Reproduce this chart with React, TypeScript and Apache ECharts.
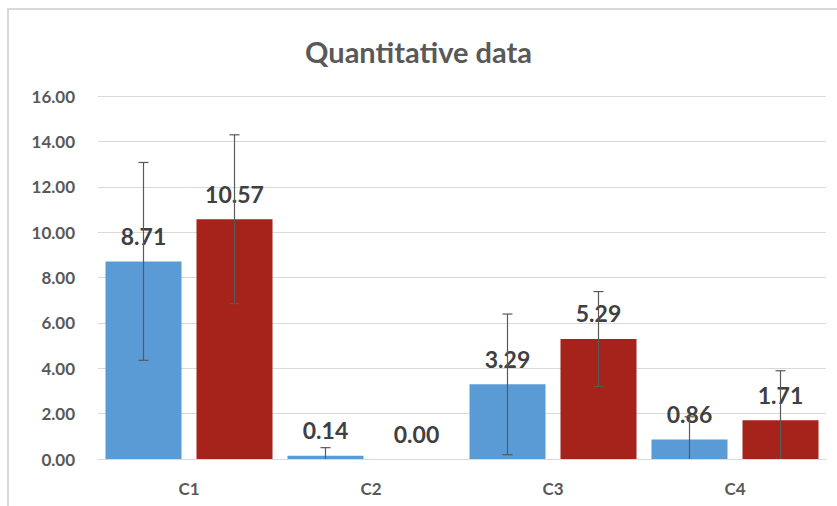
import React, { useEffect, useRef } from "react";
import * as echarts from "echarts";

const categories = ["C1", "C2", "C3", "C4"];
const seriesA = [8.71, 0.14, 3.29, 0.86];
const seriesB = [10.57, 0.0, 5.29, 1.71];
const errorA = [4.36, 0.36, 3.1, 1.0];
const errorB = [3.72, 0, 2.09, 2.18];
const yTicks = { min: 0, max: 16, interval: 2 };

const FONT = "Lato, 'Open Sans', sans-serif";
const BAR_W = 76;
const GAP = 15;
const OFFSET = (BAR_W + GAP) / 2;

function errorSeries(values: number[], errors: number[], offset: number) {
  const data = values.map((v, i) => [i, Math.max(0, v - errors[i]), v + errors[i], errors[i]]);
  return {
    type: "custom",
    z: 5,
    silent: true,
    data,
    renderItem: (params: any, api: any) => {
      const err = api.value(3);
      if (!err) return { type: "group", children: [] };
      const lo = api.coord([api.value(0), api.value(1)]);
      const hi = api.coord([api.value(0), api.value(2)]);
      const x = lo[0] + offset;
      const cap = 5;
      const style = { stroke: "#595959", lineWidth: 1.2 };
      const children: any[] = [
        { type: "line", shape: { x1: x, y1: lo[1], x2: x, y2: hi[1] }, style },
        { type: "line", shape: { x1: x - cap, y1: hi[1], x2: x + cap, y2: hi[1] }, style },
      ];
      if (api.value(1) > 0) {
        children.push({ type: "line", shape: { x1: x - cap, y1: lo[1], x2: x + cap, y2: lo[1] }, style });
      }
      return { type: "group", children };
    },
  };
}

export default function App() {
  const ref = useRef<HTMLDivElement>(null);
  useEffect(() => {
    if (!ref.current) return;
    const chart = echarts.init(ref.current, null, { renderer: "svg" });
    const label = {
      show: true,
      position: "top",
      distance: 14,
      color: "#404040",
      fontSize: 23,
      fontWeight: "bold",
      fontFamily: FONT,
      formatter: (p: any) => Number(p.value).toFixed(2),
    };
    chart.setOption({
      animation: false,
      backgroundColor: "#ffffff",
      title: {
        text: "Quantitative data",
        left: "center",
        top: 32,
        textStyle: { color: "#595959", fontSize: 29, fontWeight: "bold", fontFamily: FONT },
      },
      graphic: [
        {
          type: "rect",
          shape: { x: 8, y: 9, width: 900, height: 600 },
          style: { fill: "none", stroke: "#d9d9d9", lineWidth: 2 },
          silent: true,
        },
      ],
      grid: { left: 98, right: 11, top: 96, bottom: 47 },
      xAxis: {
        type: "category",
        data: categories,
        axisLine: { lineStyle: { color: "#d9d9d9", width: 1 } },
        axisTick: { show: false },
        axisLabel: { color: "#595959", fontSize: 17, fontWeight: "bold", fontFamily: FONT, margin: 21 },
      },
      yAxis: {
        type: "value",
        min: yTicks.min,
        max: yTicks.max,
        interval: yTicks.interval,
        axisLine: { show: false },
        axisTick: { show: false },
        splitLine: { lineStyle: { color: "#d9d9d9", width: 1 } },
        axisLabel: {
          color: "#595959",
          fontSize: 17,
          fontWeight: "bold",
          fontFamily: FONT,
          margin: 23,
          formatter: (v: number) => v.toFixed(2),
        },
      },
      series: [
        {
          name: "Series 1",
          type: "bar",
          data: seriesA,
          barWidth: BAR_W,
          barGap: (GAP / BAR_W) * 100 + "%",
          itemStyle: { color: "#5B9BD5" },
          label,
        },
        {
          name: "Series 2",
          type: "bar",
          data: seriesB,
          barWidth: BAR_W,
          itemStyle: { color: "#A5231A" },
          label,
        },
        errorSeries(seriesA, errorA, -OFFSET),
        errorSeries(seriesB, errorB, OFFSET),
      ],
    });
    return () => chart.dispose();
  }, []);
  return (
    <div
      ref={ref}
      style={{ position: "fixed", left: 0, top: 0, width: 837, height: 506 }}
    />
  );
}
